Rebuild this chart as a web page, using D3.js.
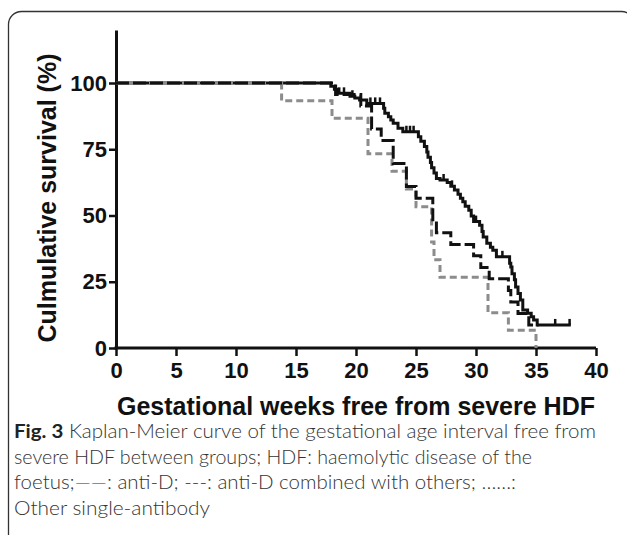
<!DOCTYPE html>
<html>
<head>
<meta charset="utf-8">
<script src="https://cdn.jsdelivr.net/npm/d3@7"></script>
<style>
  body { margin: 0; background: #fff; }
  svg { display: block; }
</style>
</head>
<body>
<div id="chart"></div>
<script>
// Kaplan-Meier step points [week, survival %]
var antiD = [[0, 100], [17.9, 98.8], [18.2, 97.6], [18.4, 96.1], [19.5, 95.0], [19.9, 94.3], [20.3, 93.6],
  [20.9, 92.3], [22.3, 90.5], [22.4, 88.6], [22.7, 87.3], [22.9, 86.0], [23.1, 84.8], [23.5, 82.9],
  [23.9, 81.6], [25.2, 79.7], [25.4, 78.0], [25.7, 76.0], [25.9, 74.0], [26.0, 72.0], [26.2, 70.0],
  [26.3, 68.0], [26.5, 66.0], [26.7, 64.0], [27.0, 63.4], [27.6, 62.5], [27.9, 61.0], [28.2, 59.6],
  [28.5, 58.0], [28.7, 56.5], [28.9, 55.2], [29.1, 53.5], [29.4, 52.0], [29.6, 49.8], [29.8, 47.7],
  [30.3, 46.3], [30.5, 44.0], [30.6, 41.9], [30.9, 39.5], [31.2, 38.0], [31.4, 36.9], [31.7, 34.4],
  [32.8, 32.0], [32.9, 30.6], [33.0, 28.0], [33.2, 25.8], [33.3, 23.0], [33.5, 20.6], [33.7, 18.1],
  [33.9, 14.3], [34.3, 13.1], [34.6, 11.8], [34.8, 10.6], [35.1, 8.7], [37.9, 8.7]];
var antiDCensored = [18.6, 19.0, 19.7, 21.2, 21.6, 22.0, 24.2, 24.5, 24.8, 27.3, 28.0, 30.0, 32.2, 36.6, 37.8];

var antiDCombined = [[0, 100], [18.3, 95.7], [20.4, 91.3], [21.3, 82.6], [22.1, 78.3], [23.1, 69.6],
  [24.2, 60.9], [25.0, 56.5], [26.4, 47.8], [26.7, 43.5], [27.9, 39.1], [29.8, 34.8], [30.4, 30.4],
  [31.1, 26.1], [32.7, 21.7], [32.9, 17.4], [33.5, 13.0], [34.4, 8.7], [35.2, 8.7]];

var otherSingle = [[0, 100], [13.8, 93.3], [18.0, 86.7], [21.0, 73.3], [23.0, 66.7], [24.2, 60.0],
  [25.0, 53.3], [26.3, 40.0], [26.5, 33.3], [27.0, 26.7], [31.0, 13.3], [32.7, 6.7], [35.0, 0]];

var weekTicks = [0, 5, 10, 15, 20, 25, 30, 35, 40];
var survivalTicks = [0, 25, 50, 75, 100];

var captionLines = [
  {bold: "Fig. 3", rest: " Kaplan-Meier curve of the gestational age interval free from", len: 582},
  {bold: "", rest: "severe HDF between groups; HDF: haemolytic disease of the", len: 518},
  {bold: "", rest: "foetus;\u2014\u2014: anti-D; ---: anti-D combined with others; \u2026\u2026:", len: 502},
  {bold: "", rest: "Other single-antibody", len: 196}
];

var width = 627, height = 535;

var svg = d3.select("#chart").append("svg")
    .attr("width", width)
    .attr("height", height);

svg.append("rect").attr("width", width).attr("height", height).attr("fill", "#fff");

// frame of the figure box (runs off the right and bottom)
svg.append("rect")
    .attr("x", 8.5).attr("y", 11.5)
    .attr("width", 626).attr("height", 600)
    .attr("rx", 13)
    .attr("fill", "none")
    .attr("stroke", "#333")
    .attr("stroke-width", 1.3);

var x = d3.scaleLinear().domain([0, 40]).range([116, 596]);
var y = d3.scaleLinear().domain([0, 120]).range([348, 30]);

var xAxis = d3.axisBottom(x).tickValues(weekTicks).tickSize(8).tickSizeOuter(0).tickPadding(6);
var yAxis = d3.axisLeft(y).tickValues(survivalTicks).tickSize(7).tickSizeOuter(0).tickPadding(2);

var gX = svg.append("g")
    .attr("transform", "translate(0," + y(0) + ")")
    .call(xAxis);
var gY = svg.append("g")
    .attr("transform", "translate(" + x(0) + ",0)")
    .call(yAxis);

[gX, gY].forEach(function(g) {
  g.select(".domain").attr("stroke", "#111").attr("stroke-width", 3);
  g.selectAll(".tick line").attr("stroke", "#111").attr("stroke-width", 2.5);
  g.selectAll(".tick text")
    .attr("fill", "#111")
    .style("font-family", "'Liberation Sans', Arial, sans-serif")
    .style("font-weight", "bold")
    .style("font-size", "22px");
});
gX.select(".domain").attr("d", "M" + (x(0) - 1.5) + ",0H" + x(40));

svg.append("text")
    .attr("x", x(20))
    .attr("y", 415)
    .attr("text-anchor", "middle")
    .attr("fill", "#111")
    .style("font-family", "'Liberation Sans', Arial, sans-serif")
    .style("font-weight", "bold")
    .style("font-size", "25px")
    .text("Gestational weeks free from severe HDF");

svg.append("text")
    .attr("transform", "translate(56,198) rotate(-90)")
    .attr("text-anchor", "middle")
    .attr("fill", "#111")
    .style("font-family", "'Liberation Sans', Arial, sans-serif")
    .style("font-weight", "bold")
    .style("font-size", "25px")
    .text("Culmulative survival (%)");

// curves
var line = d3.line()
    .x(function(d) { return x(d[0]); })
    .y(function(d) { return y(d[1]); })
    .curve(d3.curveStepAfter);

svg.append("path")
    .datum(antiD)
    .attr("d", line)
    .attr("fill", "none")
    .attr("stroke", "#111")
    .attr("stroke-width", 3);

function survivalAt(data, t) {
  var s = data[0][1];
  data.forEach(function(d) { if (d[0] <= t) s = d[1]; });
  return s;
}

svg.append("g").selectAll("line")
    .data(antiDCensored)
  .enter().append("line")
    .attr("x1", function(d) { return x(d); })
    .attr("x2", function(d) { return x(d); })
    .attr("y1", function(d) { return y(survivalAt(antiD, d)); })
    .attr("y2", function(d) { return y(survivalAt(antiD, d)) - 6; })
    .attr("stroke", "#111")
    .attr("stroke-width", 2.5);

svg.append("path")
    .datum(otherSingle)
    .attr("d", line)
    .attr("fill", "none")
    .attr("stroke", "#8c8c8c")
    .attr("stroke-width", 3)
    .attr("stroke-dasharray", "7,4");

svg.append("path")
    .datum(antiDCombined)
    .attr("d", line)
    .attr("fill", "none")
    .attr("stroke", "#111")
    .attr("stroke-width", 3)
    .attr("stroke-dasharray", "13,4");

// caption
var caption = svg.append("g")
    .style("font-family", "Lato, 'Open Sans', sans-serif")
    .style("font-size", "19px")
    .attr("fill", "#333");

caption.selectAll("text")
    .data(captionLines)
  .enter().append("text")
    .attr("x", 14)
    .attr("y", function(d, i) { return 438 + i * 25.7; })
    .attr("textLength", function(d) { return d.len; })
    .attr("lengthAdjust", "spacingAndGlyphs")
    .each(function(d) {
      var t = d3.select(this);
      if (d.bold) t.append("tspan").style("font-weight", "bold").attr("fill", "#222").text(d.bold);
      t.append("tspan").style("font-weight", "300").text(d.rest);
    });
</script>
</body>
</html>
